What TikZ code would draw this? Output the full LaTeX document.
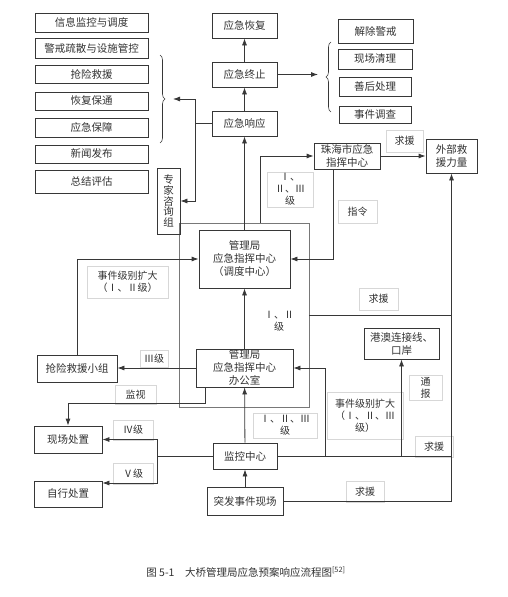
\documentclass[tikz,border=0pt]{standalone}
\usepackage{fontspec}
\usepackage{tikz}
\usetikzlibrary{arrows.meta}
\usetikzlibrary{decorations.pathreplacing}
\newfontfamily\cjk{Noto Sans CJK SC}
\definecolor{dgray}  {RGB}{55,55,55}
\definecolor{mgray}  {RGB}{120,120,120}
\definecolor{lgray}  {RGB}{215,215,215}
\definecolor{tgray}  {RGB}{50,50,50}
\tikzset{
    box/.style={draw=dgray, line width=0.8pt, text=tgray, inner sep=0pt, align=center,
        font=\cjk\fontsize{10.5}{13}\selectfont},
    vbox/.style={box, font=\cjk\fontsize{10.5}{10.8}\selectfont},
    tag/.style={draw=lgray, line width=0.6pt, text=tgray, inner sep=0pt, align=center,
        font=\cjk\fontsize{10}{12}\selectfont},
    frame/.style={draw=mgray, line width=0.7pt},
    link/.style={draw=dgray, line width=0.8pt},
    arr/.style={link, -{Latex[length=7pt,width=5pt]}},
    curly/.style={decorate, draw=dgray, line width=0.6pt,
        decoration={brace,amplitude=5pt}}
  }
\begin{document}
\begin{tikzpicture}[x=1pt, y=-1pt]
 \useasboundingbox (0,0) rectangle (507,597);
 %Bureau frame
     \node[frame, minimum width=130, minimum height=184] (glj) at (244,315) {};
 %Task list
     \node[box, minimum width=113, minimum height=19] (xxjk) at (91.5,22.5) {信息监控与调度};
     \node[box, minimum width=113, minimum height=20] (jjss) at (91.5,48) {警戒疏散与设施管控};
     \node[box, minimum width=113, minimum height=18] (qxjy) at (91.5,74) {抢险救援};
     \node[box, minimum width=113, minimum height=18] (hfbt) at (91.5,101) {恢复保通};
     \node[box, minimum width=113, minimum height=19] (yjbz) at (91.5,127.5) {应急保障};
     \node[box, minimum width=113, minimum height=18] (xwfb) at (91.5,154) {新闻发布};
     \node[box, minimum width=113, minimum height=23] (zjpg) at (91.5,181.5) {总结评估};
     \node[vbox, minimum width=23, minimum height=66] (zjzx) at (168.5,201) {专\\家\\咨\\询\\组};
 %Main chain
     \node[box, minimum width=65, minimum height=25] (yjhf) at (244.5,25.5) {应急恢复};
     \node[box, minimum width=65, minimum height=25] (yjzz) at (244.5,74.5) {应急终止};
     \node[box, minimum width=65, minimum height=25] (yjxy) at (244.5,123.5) {应急响应};
     \node[box, minimum width=91, minimum height=58] (ddzx) at (244.5,259) {管理局\\应急指挥中心\\（调度中心）};
     \node[box, minimum width=97, minimum height=38] (bgs) at (244.5,368) {管理局\\应急指挥中心\\办公室};
     \node[box, minimum width=64, minimum height=26] (jkzx) at (245,456) {监控中心};
     \node[box, minimum width=76, minimum height=28] (tfxc) at (245,501) {突发事件现场};
 %Closing tasks
     \node[box, minimum width=75, minimum height=24] (jcjj) at (375.5,31) {解除警戒};
     \node[box, minimum width=74, minimum height=20] (xcql) at (375,59) {现场清理};
     \node[box, minimum width=72, minimum height=19] (shcl) at (375,86.5) {善后处理};
     \node[box, minimum width=72, minimum height=17] (sjdc) at (375,114.5) {事件调查};
 %Outside units
     \node[box, minimum width=66, minimum height=26] (zhzx) at (347,156) {珠海市应急\\指挥中心};
     \node[box, minimum width=51, minimum height=34] (wbjy) at (451.5,156) {外部救\\援力量};
     \node[box, minimum width=75, minimum height=31] (gakz) at (401.5,343.5) {港澳连接线、\\口岸};
 %Field units
     \node[box, minimum width=80, minimum height=27] (qxxz) at (77,368.5) {抢险救援小组};
     \node[box, minimum width=68, minimum height=27] (xccz) at (68,439.5) {现场处置};
     \node[box, minimum width=68, minimum height=26] (zxcz) at (68,494) {自行处置};
 %Labels
     \node[tag, minimum width=37, minimum height=22] (qy1) at (404.5,141) {求援};
     \node[tag, minimum width=46, minimum height=35] (jb1) at (290,189.5) {Ⅰ、\\Ⅱ、Ⅲ\\级};
     \node[tag, minimum width=39, minimum height=23] (zl) at (357.5,211.5) {指令};
     \node[tag, minimum width=81, minimum height=32] (kd1) at (127.5,282) {事件级别扩大\\（Ⅰ、Ⅱ级）};
     \node[tag, minimum width=39, minimum height=22] (qy2) at (378.5,299) {求援};
     \node[tag, draw=none] (jb2) at (279,321) {Ⅰ、Ⅱ\\级};
     \node[tag, minimum width=28, minimum height=17] (jb3) at (154,358.5) {Ⅲ级};
     \node[tag, minimum width=41, minimum height=19] (js) at (135.5,394.5) {监视};
     \node[tag, minimum width=33, minimum height=25] (tb) at (425.5,387.5) {通\\报};
     \node[tag, minimum width=76, minimum height=47] (kd2) at (365,415.5) {事件级别扩大\\（Ⅰ、Ⅱ、Ⅲ\\级）};
     \node[tag, minimum width=64, minimum height=25] (jb4) at (285,425.5) {Ⅰ、Ⅱ、Ⅲ\\级};
     \node[tag, minimum width=38, minimum height=21] (qy3) at (434,446.5) {求援};
     \node[tag, minimum width=40, minimum height=20] (jb5) at (133,430) {Ⅳ级};
     \node[tag, minimum width=40, minimum height=21] (jb6) at (133,473.5) {Ⅴ级};
     \node[tag, minimum width=38, minimum height=21] (qy4) at (365,491.5) {求援};
 %Main chain arrows
     \draw[arr] (yjzz) -- (yjhf);
     \draw[arr] (yjxy) -- (yjzz);
     \draw[arr] (ddzx) -- (yjxy);
     \draw[arr] (bgs) -- (ddzx);
     \draw[arr] (jkzx) -- (bgs);
     \draw[arr] (tfxc) -- (jkzx);
 %Closing brace
     \coordinate (rbt) at (318,74.5);
     \draw[arr] (yjzz.east) -- (rbt);
     \draw[curly] (331,112) -- (331,42);
 %Response brace
     \coordinate (lbt) at (173,99);
     \coordinate (ljn) at (195,99);
     \draw[curly] (160,55) -- (160,143);
     \draw[link] (yjxy.west) -| (ljn);
     \draw[arr] (ljn) -- (lbt);
     \draw[arr] (ljn) |- (zjzx.east);
 %City centre
     \coordinate (zhin) at (260,223);
     \coordinate (zhout) at (333,169);
     \draw[arr] (zhin) |- (zhzx.west);
     \draw[arr] (zhout) |- (ddzx.east);
     \draw[arr] (zhzx) -- (wbjy);
 %Help requests
     \draw[arr] (tfxc.east) -| (wbjy.south);
     \draw[link] (glj.east) -- (glj.east -| wbjy.south);
     \draw[link] (jkzx.east) -- (jkzx.east -| wbjy.south);
     \draw[arr] (gakz.south |- jkzx.east) -- (gakz.south);
     \coordinate (kzr) at (325,456);
     \draw[arr] (kzr) |- (bgs.east);
 %Field side
     \draw[arr] (bgs.west) -- (bgs.west -| qxxz.east);
     \draw[arr] (qxxz.north) |- (ddzx.west);
     \coordinate (jsout) at (205,387);
     \coordinate (jsc) at (68,403);
     \draw[arr] (jsout) |- (jsc) -- (xccz.north);
     \coordinate (lvj) at (157,456);
     \draw[link] (jkzx.west) -- (lvj);
     \draw[arr] (lvj) |- (xccz.east);
     \draw[arr] (lvj) |- ([yshift=11pt]zxcz.east);
 %Caption
     \node[text=tgray, font=\cjk\fontsize{10.5}{12}\selectfont] (cap) at (246,572)
         {图 5-1\quad 大桥管理局应急预案响应流程图\textsuperscript{[52]}};
 \end{tikzpicture}
\end{document}
